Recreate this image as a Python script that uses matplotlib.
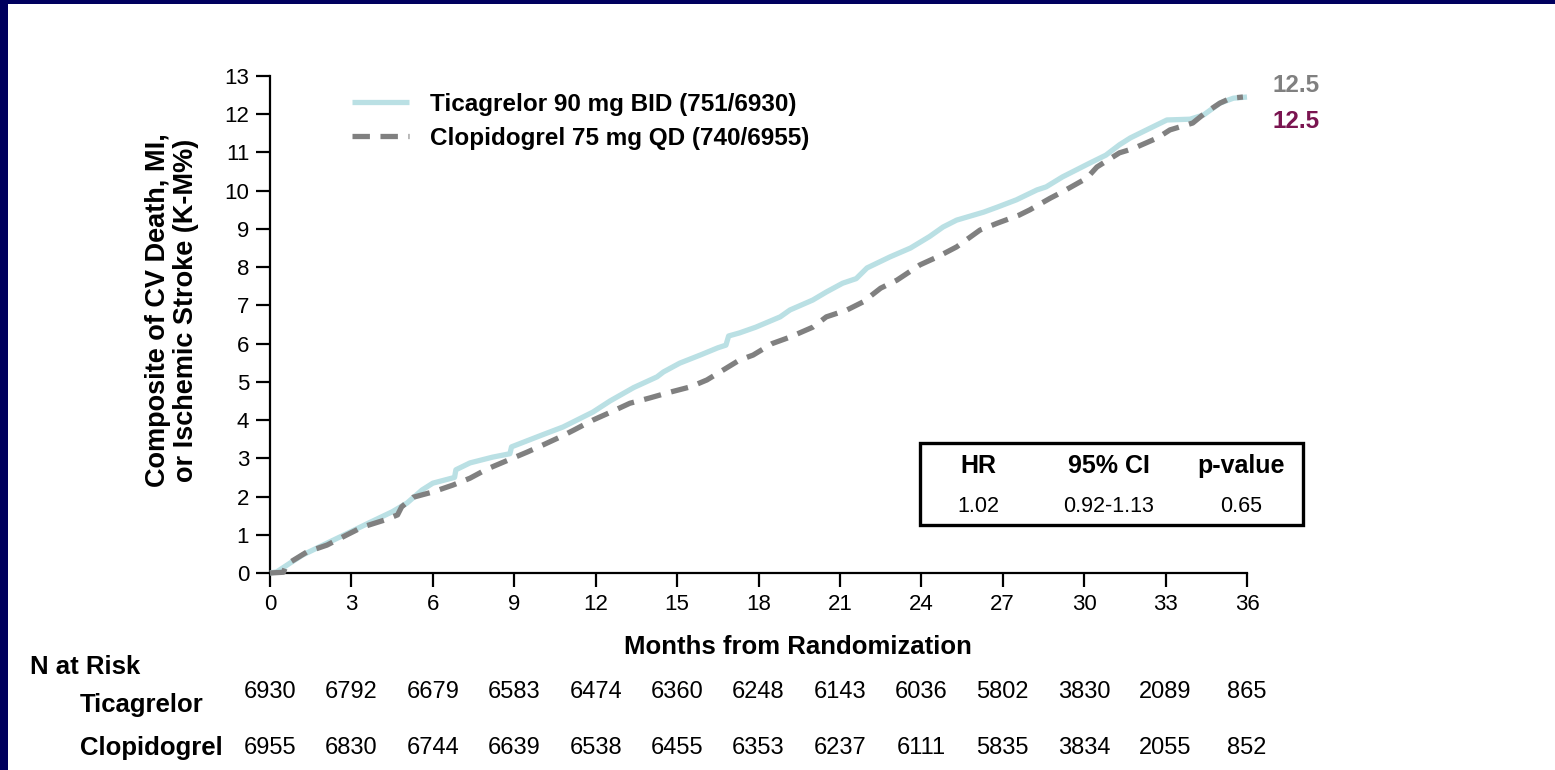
import matplotlib
matplotlib.use("Agg")
import matplotlib.pyplot as plt
import matplotlib.transforms as mtransforms
from matplotlib.patches import Rectangle

plt.rcParams['font.family'] = ['Liberation Sans', 'DejaVu Sans']

# K-M curves (months, %)
tica_t = [0, 0.25, 0.74, 1.2, 2.1, 2.95, 3.7, 4.5, 5.05, 5.6, 6.0, 6.8, 6.85, 7.37, 8.2,
          8.84, 8.9, 10.06, 10.8, 11.9, 12.53, 13.4, 14.26, 14.5, 15.1, 15.85, 16.5, 16.8,
          16.9, 17.3, 17.9, 18.8, 19.16, 20.0, 20.5, 21.1, 21.6, 22.0, 22.85, 23.6, 24.3,
          24.8, 25.3, 26.3, 26.8, 27.5, 28.26, 28.6, 29.2, 30.2, 30.8, 31.3, 31.7, 32.3,
          33.05, 33.9, 34.4, 35.0, 35.5, 36.0]
tica_y = [0, 0.03, 0.26, 0.47, 0.78, 1.07, 1.33, 1.6, 1.83, 2.17, 2.35, 2.5, 2.7, 2.88, 3.03,
          3.12, 3.3, 3.62, 3.82, 4.21, 4.5, 4.85, 5.13, 5.26, 5.49, 5.7, 5.89, 5.96,
          6.2, 6.28, 6.43, 6.7, 6.88, 7.14, 7.35, 7.58, 7.7, 7.98, 8.27, 8.5, 8.8,
          9.05, 9.23, 9.44, 9.57, 9.76, 10.02, 10.1, 10.36, 10.72, 10.93, 11.2, 11.38, 11.59,
          11.85, 11.87, 11.98, 12.29, 12.42, 12.45]

clop_t = [0, 0.5, 0.6, 1.36, 2.1, 2.84, 3.4, 4.2, 4.7, 4.85, 5.27, 6.0, 6.74, 7.37, 8.0,
          8.6, 9.5, 10.06, 10.7, 11.2, 11.9, 12.53, 13.26, 14.0, 14.74, 15.5, 16.1, 16.7,
          17.3, 17.8, 18.5, 19.16, 20.0, 20.5, 21.26, 21.85, 22.5, 23.1, 23.95, 24.6, 25.3,
          26.16, 26.8, 27.6, 28.0, 28.74, 29.2, 30.1, 30.47, 31.3, 31.8, 32.7, 33.16, 34.0,
          34.45, 35.0, 35.4, 35.85]
clop_y = [0, 0.02, 0.22, 0.55, 0.73, 1.0, 1.2, 1.38, 1.52, 1.73, 1.98, 2.12, 2.3, 2.48, 2.72,
          2.9, 3.17, 3.35, 3.56, 3.74, 4.0, 4.2, 4.44, 4.58, 4.73, 4.87, 5.05, 5.31,
          5.57, 5.7, 6.0, 6.17, 6.43, 6.7, 6.88, 7.09, 7.45, 7.66, 8.06, 8.27, 8.53,
          8.97, 9.15, 9.36, 9.5, 9.8, 9.97, 10.33, 10.62, 10.99, 11.1, 11.38, 11.59, 11.77,
          12.03, 12.29, 12.42, 12.45]

risk_months = list(range(0, 37, 3))
risk_tica = [6930, 6792, 6679, 6583, 6474, 6360, 6248, 6143, 6036, 5802, 3830, 2089, 865]
risk_clop = [6955, 6830, 6744, 6639, 6538, 6455, 6353, 6237, 6111, 5835, 3834, 2055, 852]

labels = ['Ticagrelor 90 mg BID (751/6930)', 'Clopidogrel 75 mg QD (740/6955)']
stat_head = ['HR', '95% CI', 'p-value']
stat_vals = ['1.02', '0.92-1.13', '0.65']

W, H = 1555, 770
blue = '#BAE0E4'
grey = '#808080'
navy = '#00005E'
plum = '#7A1450'


def fx(px):
    return px / W


def fy(py):
    return 1 - py / H


fig = plt.figure(figsize=(15.55, 7.7), dpi=100, facecolor=navy)
fig.patches.append(Rectangle((fx(8), 0), 1, fy(4), transform=fig.transFigure,
                             facecolor='white', edgecolor='none', zorder=-10))

ax = fig.add_axes([fx(270), fy(573), fx(1247) - fx(270), fy(76) - fy(573)])
ax.set_facecolor('none')

ax.plot(tica_t, tica_y, color=blue, lw=3.8, solid_capstyle='butt', label=labels[0],
        clip_on=False, zorder=3)
ax.plot(clop_t, clop_y, color=grey, lw=3.8, dashes=(3.3, 2.0), dash_capstyle='butt',
        label=labels[1], clip_on=False, zorder=4)

ax.set_xlim(0, 36)
ax.set_ylim(0, 13)
ax.set_xticks(risk_months)
ax.set_yticks(range(0, 14))
for s in ['top', 'right']:
    ax.spines[s].set_visible(False)
for s in ['left', 'bottom']:
    ax.spines[s].set_linewidth(1.6)
ax.tick_params(length=10, width=1.6, labelsize=16, pad=5)

leg = fig.legend(loc='upper left', bbox_to_anchor=(fx(352), fy(93)), frameon=False,
                 prop={'weight': 'bold', 'size': 17.5}, handlelength=2.35,
                 handletextpad=0.85, labelspacing=0.45, borderpad=0, borderaxespad=0)

fig.text(fx(172), fy(310), 'Composite of CV Death, MI,\nor Ischemic Stroke (K-M%)',
         fontsize=19.5, fontweight='bold', rotation=90, ha='center', va='center',
         linespacing=1.1, multialignment='center')
fig.text(fx(798), fy(647), 'Months from Randomization', fontsize=18.5, fontweight='bold',
         ha='center', va='center')

# end-point labels
fig.text(fx(1272), fy(86), '12.5', color=grey, fontsize=17.5, fontweight='bold', va='center')
fig.text(fx(1272), fy(121), '12.5', color=plum, fontsize=17.5, fontweight='bold', va='center')

# stats box
fig.patches.append(Rectangle((fx(920), fy(525)), fx(1303) - fx(920), fy(443) - fy(525),
                             transform=fig.transFigure, facecolor='white',
                             edgecolor='black', lw=2.4, zorder=5))
for cx, h, v in zip([978, 1109, 1241], stat_head, stat_vals):
    fig.text(fx(cx), fy(466), h, fontsize=18, fontweight='bold', ha='center', va='center',
             zorder=6)
    fig.text(fx(cx), fy(507), v, fontsize=15.5, ha='center', va='center', zorder=6)

# numbers at risk
tr = mtransforms.blended_transform_factory(ax.transData, fig.transFigure)
fig.text(fx(30), fy(667), 'N at Risk', fontsize=18.5, fontweight='bold', va='center')
fig.text(fx(80), fy(705), 'Ticagrelor', fontsize=18.5, fontweight='bold', va='center')
fig.text(fx(80), fy(748), 'Clopidogrel', fontsize=18.5, fontweight='bold', va='center')
for m, a, b in zip(risk_months, risk_tica, risk_clop):
    ax.text(m, fy(692), str(a), transform=tr, ha='center', va='center', fontsize=17)
    ax.text(m, fy(748), str(b), transform=tr, ha='center', va='center', fontsize=17)

fig.savefig('out.png', dpi=100, facecolor=navy)
